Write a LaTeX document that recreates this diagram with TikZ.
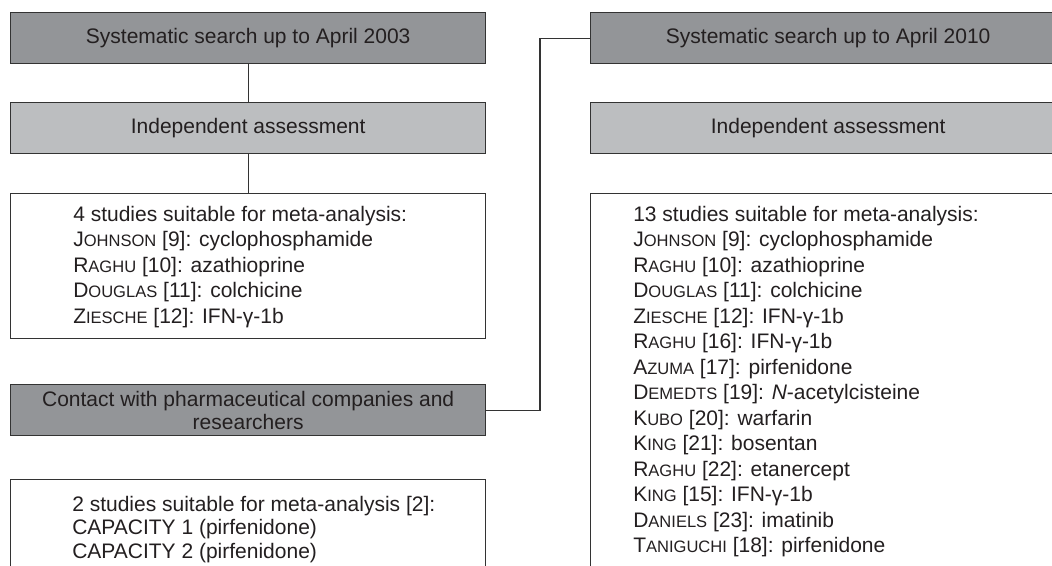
\documentclass[tikz,border=0pt]{standalone}
\usepackage{fontspec}
\setmainfont{Liberation Sans}
\definecolor{darkfill}{HTML}{939598}
\definecolor{lightfill}{HTML}{BCBEC0}
\definecolor{edge}{HTML}{333333}
\definecolor{ink}{HTML}{231F20}
\newcommand{\fsc}[2]{#1{\fontsize{12.4pt}{12.4pt}\selectfont #2}}
\begin{document}
\begin{tikzpicture}[x=0.75pt,y=-0.75pt,
  box/.style={draw=edge, line width=1pt, rectangle, inner sep=0pt, anchor=north west,
    minimum width=356.25pt, text=ink, font=\fontsize{15.75pt}{17.25pt}\selectfont, align=center},
  darkbox/.style={box, fill=darkfill, minimum height=38.25pt},
  lightbox/.style={box, fill=lightfill, minimum height=38.25pt},
  listbox/.style={box, fill=white},
  listtext/.style={anchor=north west, inner sep=0pt, align=left, text=ink,
    font=\fontsize{15.75pt}{19.1pt}\selectfont},
  link/.style={draw=edge, line width=0.9pt}]
\useasboundingbox (0,0) rectangle (1052,566);
\clip (0,0) rectangle (1052,566);
% left column
\node[darkbox] (s1) at (10,12) {Systematic search up to April 2003};
\node[lightbox] (a1) at (10,102) {Independent assessment};
\node[listbox, minimum height=108.75pt] (r1) at (10,193) {};
\node[listtext] (t1) at (73,206) {4 studies suitable for meta-analysis:\\
\fsc{J}{OHNSON} [9]: cyclophosphamide\\
\fsc{R}{AGHU} [10]: azathioprine\\
\fsc{D}{OUGLAS} [11]: colchicine\\
\fsc{Z}{IESCHE} [12]: IFN-γ-1b};
\node[darkbox, minimum height=38.25pt] (c1) at (10,384) {Contact with pharmaceutical companies and\\researchers};
\node[listbox, minimum height=105.75pt] (r2) at (10,479) {};
\node[listtext, font=\fontsize{15.75pt}{17.6pt}\selectfont] (t2) at (72,496) {2 studies suitable for meta-analysis [2]:\\
CAPACITY 1 (pirfenidone)\\
CAPACITY 2 (pirfenidone)};
% right column
\node[darkbox] (s2) at (590,12) {Systematic search up to April 2010};
\node[lightbox] (a2) at (590,102) {Independent assessment};
\node[listbox, minimum height=320.25pt] (r3) at (590,193) {};
\node[listtext] (t3) at (633,206) {13 studies suitable for meta-analysis:\\
\fsc{J}{OHNSON} [9]: cyclophosphamide\\
\fsc{R}{AGHU} [10]: azathioprine\\
\fsc{D}{OUGLAS} [11]: colchicine\\
\fsc{Z}{IESCHE} [12]: IFN-γ-1b\\
\fsc{R}{AGHU} [16]: IFN-γ-1b\\
\fsc{A}{ZUMA} [17]: pirfenidone\\
\fsc{D}{EMEDTS} [19]: \textit{N}-acetylcisteine\\
\fsc{K}{UBO} [20]: warfarin\\
\fsc{K}{ING} [21]: bosentan\\
\fsc{R}{AGHU} [22]: etanercept\\
\fsc{K}{ING} [15]: IFN-γ-1b\\
\fsc{D}{ANIELS} [23]: imatinib\\
\fsc{T}{ANIGUCHI} [18]: pirfenidone};
% connectors
\coordinate (jx) at (540,0);
\draw[link] (s1.south) -- (a1.north);
\draw[link] (a1.south) -- (r1.north);
\draw[link] (c1.east) -- (c1.east -| jx) -- (s2.west -| jx) -- (s2.west);
\end{tikzpicture}
\end{document}
